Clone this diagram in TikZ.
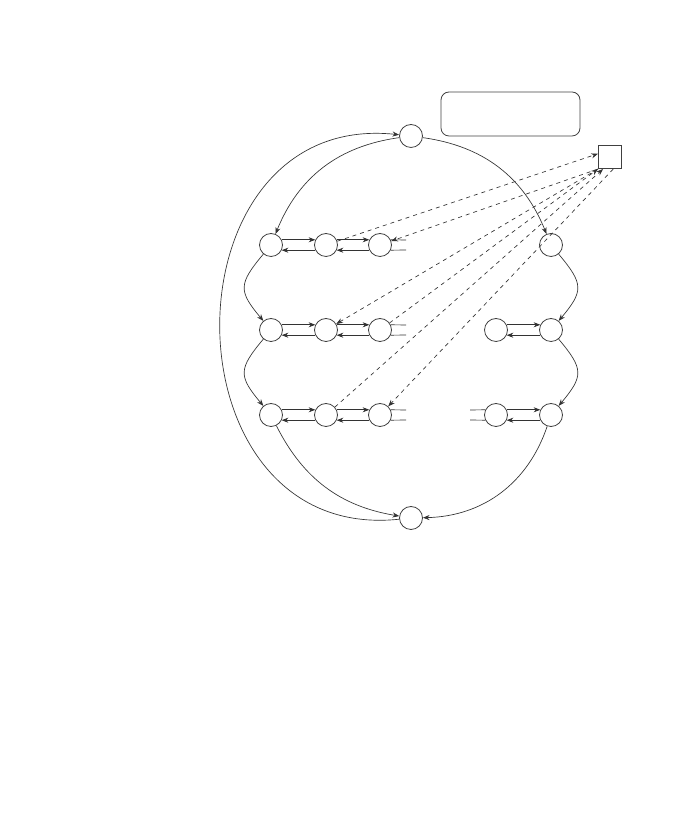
\documentclass[tikz,border=0pt]{standalone}
\usetikzlibrary{arrows.meta}
\begin{document}
\begin{tikzpicture}[x=0.75pt,y=0.75pt,
  st/.style={circle,draw=black!75,line width=0.6pt,minimum size=17.25pt,inner sep=0pt},
  sqbox/.style={rectangle,draw=black!75,line width=0.6pt,minimum size=17.5pt,inner sep=0pt},
  lblbox/.style={rectangle,rounded corners=6pt,draw=black!75,line width=0.6pt,minimum width=104.25pt,minimum height=33pt,inner sep=0pt},
  arr/.style={-{Stealth[length=5pt,width=3.8pt]},draw=black!80,line width=0.5pt},
  dsh/.style={arr,dashed},
  stub/.style={draw=black!80,line width=0.5pt}]
\useasboundingbox (0,0) rectangle (679,839);
% main nodes
\node[st] (T) at (411,703) {};
\node[st] (B) at (411,321) {};
\node[st] (L1) at (271,594) {};
\node[st] (L1b) at (326,594) {};
\node[st] (L1c) at (380,594) {};
\node[st] (R1) at (551,594) {};
\node[st] (L2) at (271,509) {};
\node[st] (L2b) at (326,509) {};
\node[st] (L2c) at (380,509) {};
\node[st] (R2a) at (496,509) {};
\node[st] (R2) at (551,509) {};
\node[st] (L3) at (271,424) {};
\node[st] (L3b) at (326,424) {};
\node[st] (L3c) at (380,424) {};
\node[st] (R3a) at (496,424) {};
\node[st] (R3) at (551,424) {};
\node[sqbox] (S) at (610,682) {};
\node[lblbox] (box) at (510.5,725) {};
% stub ends
\coordinate (e1t) at (406,599); \coordinate (e1b) at (406,589);
\coordinate (e2t) at (406,514); \coordinate (e2b) at (406,504);
\coordinate (e3t) at (406,429); \coordinate (e3b) at (406,419);
\coordinate (f3t) at (470,429); \coordinate (f3b) at (470,419);
% horizontal pairs
\foreach \a/\b in {L1/L1b,L1b/L1c,L2/L2b,L2b/L2c,L3/L3b,L3b/L3c,R2a/R2,R3a/R3}{
  \draw[arr] (\a.26) -- (\b.154);
  \draw[arr] (\b.206) -- (\a.334);
}
% stubs
\draw[stub] (L1c.26) -- (e1t); \draw[stub] (L1c.334) -- (e1b);
\draw[stub] (L2c.26) -- (e2t); \draw[stub] (L2c.334) -- (e2b);
\draw[stub] (L3c.26) -- (e3t); \draw[stub] (L3c.334) -- (e3b);
\draw[stub] (f3t) -- (R3a.154); \draw[stub] (f3b) -- (R3a.206);
% curves
\draw[arr] (T) to[bend right=30] (L1);
\draw[arr] (T) to[bend left=30] (R1);
\draw[arr] (B) to[out=186,in=174,looseness=1.6] (T);
\draw[arr] (L1) to[out=230,in=130,looseness=1.5] (L2);
\draw[arr] (L2) to[out=230,in=130,looseness=1.5] (L3);
\draw[arr] (R1) to[out=-50,in=50,looseness=1.5] (R2);
\draw[arr] (R2) to[out=-50,in=50,looseness=1.5] (R3);
\draw[arr] (L3) to[bend right=27] (B);
\draw[arr] (R3) to[bend left=35] (B);
% dashed
\draw[dsh] (L1b) -- (S.165);
\draw[dsh] (S.south west) -- (L1c);
\draw[dsh] (S.south west) -- (L2b);
\draw[dsh] (L2c) -- (S.225);
\draw[dsh] (L3b) -- (S.240);
\draw[dsh] (S.285) -- (L3c);
\end{tikzpicture}
\end{document}
